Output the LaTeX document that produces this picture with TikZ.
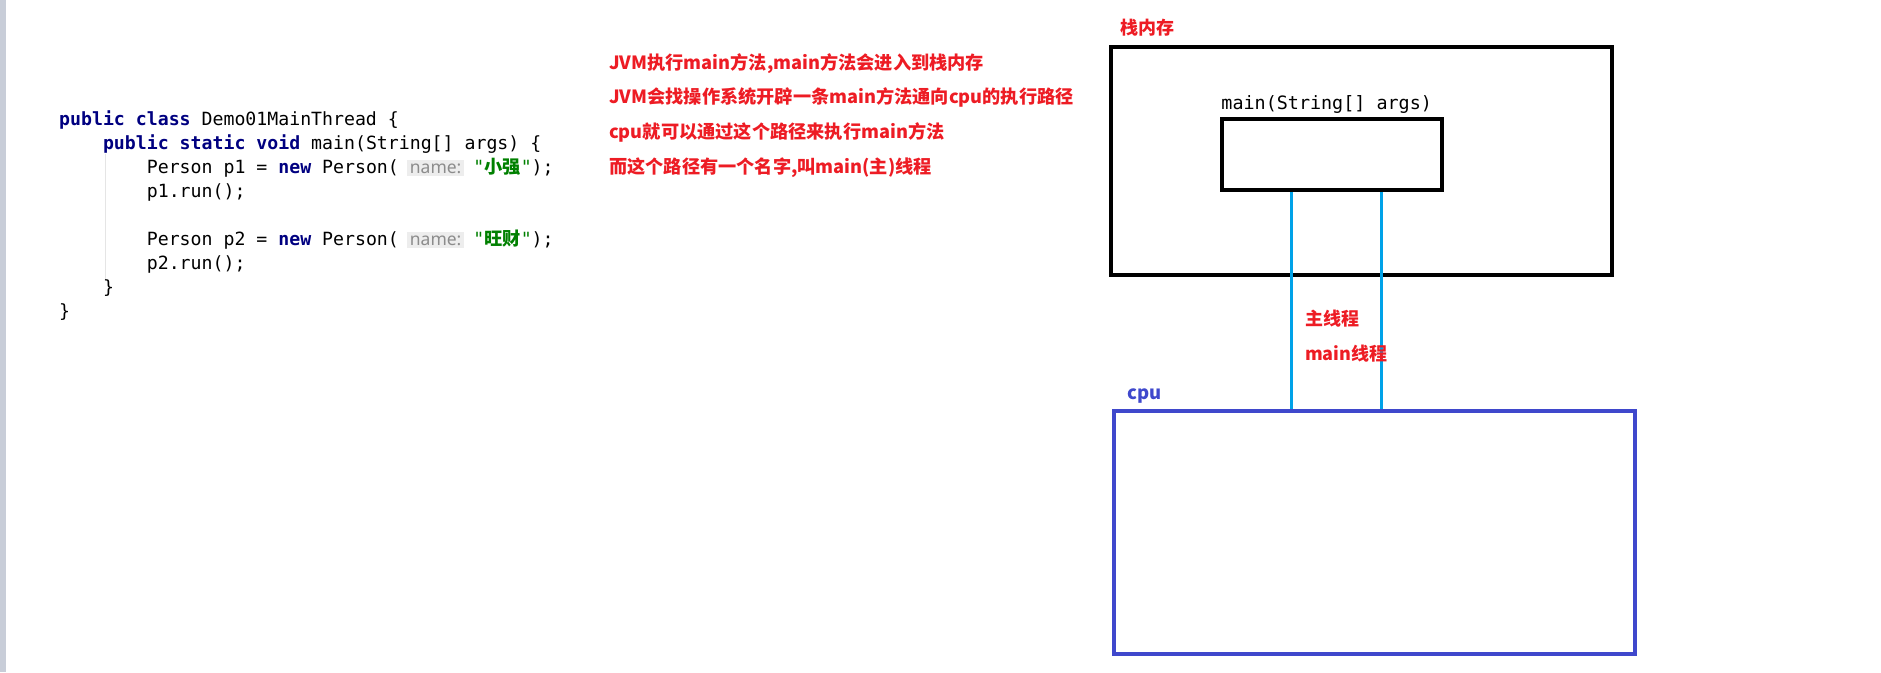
\documentclass[tikz,border=0pt]{standalone}
\usepackage{fontspec}
\setmainfont{Noto Sans}
\setmonofont{DejaVu Sans Mono}
\newfontfamily\cjk{Noto Sans CJK SC}
\newfontfamily\hintfont{Noto Sans}
\usetikzlibrary{positioning}
\usepackage{xcolor}
\definecolor{notered}{HTML}{ED1C24}
\definecolor{cpublue}{HTML}{3F48CC}
\definecolor{threadcyan}{HTML}{00A2E8}
\definecolor{codenavy}{HTML}{000080}
\definecolor{codegreen}{HTML}{008000}
\definecolor{hintgray}{HTML}{8C8C8C}
\definecolor{hintbg}{HTML}{EDEDED}
\definecolor{stripgray}{HTML}{C8CDD8}

\newcommand{\kw}[1]{\textcolor{codenavy}{\bfseries #1}}
\newcommand{\jstr}[1]{\textcolor{codegreen}{"{\cjk\bfseries #1}"}}
\newcommand{\hint}{\hspace{8pt}{\setlength{\fboxsep}{3pt}\colorbox{hintbg}{\hintfont\fontsize{17.5}{17.5}\selectfont\textcolor{hintgray}{name:}}}\hspace{9pt}}
\newcommand{\ind}[1]{\hspace*{#1\fontcharwd\font`x}}

\begin{document}
\begin{tikzpicture}[x=1pt, y=-1pt,
      code/.style={anchor=north west, inner sep=0pt, align=left, font=\ttfamily\fontsize{18.2}{24}\selectfont},
      note/.style={anchor=north west, inner sep=0pt, align=left, text=notered, font=\cjk\bfseries\fontsize{18.2}{34.9}\selectfont},
      redlabel/.style={inner sep=0pt, text=notered, font=\cjk\bfseries\fontsize{18}{18}\selectfont},
      memory/.style={rectangle, draw=black, line width=3.5pt, inner sep=0pt},
      cpubox/.style={rectangle, draw=cpublue, line width=3.5pt, inner sep=0pt},
      thread/.style={threadcyan, line width=3pt},
    ]
    \useasboundingbox (0,0) rectangle (1881,672);
    \fill[stripgray] (0,0) rectangle (6,672);

    % source code
    \draw[gray!20, line width=1pt] (105,154) -- (105,280);
    \node[code] (src) at (59,110) {\kw{public} \kw{class} Demo01MainThread \{\\
      \ind{4}\kw{public} \kw{static} \kw{void} main(String[] args) \{\\
      \ind{8}Person p1 = \kw{new} Person(\hint\jstr{小强});\\
      \ind{8}p1.run();\\[24pt]
      \ind{8}Person p2 = \kw{new} Person(\hint\jstr{旺财});\\
      \ind{8}p2.run();\\
      \ind{4}\}\\
      \}};

    % notes
    \node[note] (notes) at (609,53) {JVM执行main方法,main方法会进入到栈内存\\
      JVM会找操作系统开辟一条main方法通向cpu的执行路径\\
      cpu就可以通过这个路径来执行main方法\\
      而这个路径有一个名字,叫main(主)线程};

    % stack memory and cpu
    \node[memory, minimum width=501pt, minimum height=228pt] (stack) at (1361.5,161) {};
    \node[redlabel, above right=9pt and 11pt of stack.north west] (stacktitle) {栈内存};
    \node[memory, minimum width=220pt, minimum height=71pt] (frame) at (1332,154.5) {};
    \node[inner sep=0pt, anchor=south west, font=\ttfamily\fontsize{18.4}{18.4}\selectfont] (frametitle) at ([xshift=1pt, yshift=4pt]frame.north west) {main(String[] args)};
    \node[cpubox, minimum width=521pt, minimum height=243pt] (cpu) at (1374.5,532.5) {};
    \node[inner sep=0pt, anchor=base west, text=cpublue, font=\cjk\bfseries\fontsize{18.5}{18.5}\selectfont] (cputitle) at ([xshift=15pt, yshift=10pt]cpu.north west) {cpu};

    \draw[thread] ([xshift=-41pt]frame.south) -- ([xshift=-41pt]frame.south |- cpu.north);
    \draw[thread] ([xshift=49pt]frame.south) -- ([xshift=49pt]frame.south |- cpu.north);
    \node[redlabel, anchor=west] (mainname) at (1305,319) {主线程};
    \node[redlabel, anchor=west] (threadname) at (1305,354) {main线程};
  \end{tikzpicture}
\end{document}
